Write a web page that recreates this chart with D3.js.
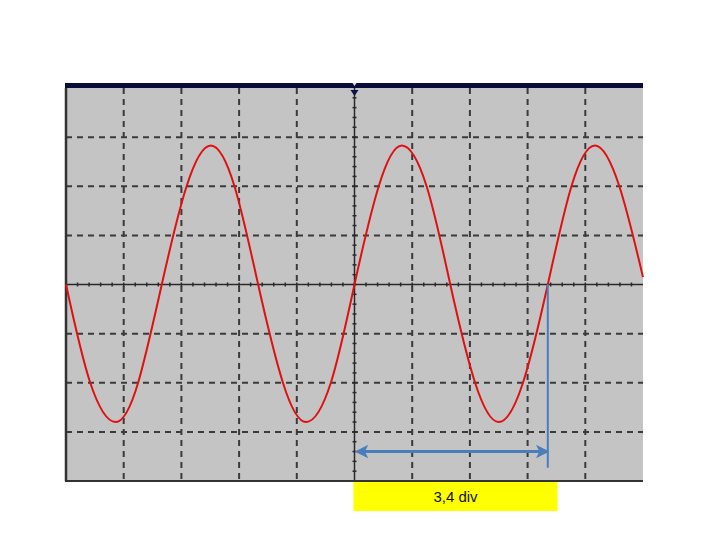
<!DOCTYPE html>
<html>
<head>
<meta charset="utf-8">
<script src="https://cdn.jsdelivr.net/npm/d3@7"></script>
<style>
  body { margin: 0; background: #fff; }
</style>
</head>
<body>
<script>
// screen divisions
var xDivs = [0, 1, 2, 3, 4, 5, 6, 7, 8, 9, 10];
var yDivs = [-4, -3, -2, -1, 0, 1, 2, 3, 4];

// trace (x in div, y in div)
var waveX = [0, 0.42, 0.86, 1.25, 1.66, 2.09, 2.51, 2.92, 3.33, 3.76, 4.16, 4.59, 5.0,
             5.42, 5.82, 6.25, 6.66, 7.09, 7.5, 7.92, 8.35, 8.76, 9.17, 9.59, 10.0];
var waveY = [0, -2.0, -2.8, -2.0, 0, 2.0, 2.83, 2.0, 0, -2.0, -2.8, -2.0, 0,
             2.0, 2.83, 2.0, 0, -2.0, -2.8, -2.0, 0, 2.0, 2.83, 2.0, 0.15];

// period measurement
var periodStart = 5.0;
var periodEnd = 8.35;
var arrowLevel = -3.4;
var markerBottom = -3.73;
var periodLabel = "3,4 div";

var width = 720, height = 540;

var svg = d3.select("body").append("svg")
  .attr("width", width)
  .attr("height", height);

var x = d3.scaleLinear().domain([0, 10]).range([66, 643]);
var y = d3.scaleLinear().domain([-4, 4]).range([481, 88]);

var defs = svg.append("defs");
defs.append("marker")
  .attr("id", "head")
  .attr("viewBox", "0 0 10 10")
  .attr("refX", 8).attr("refY", 5)
  .attr("markerWidth", 4.5).attr("markerHeight", 4.5)
  .attr("orient", "auto-start-reverse")
  .append("path")
    .attr("d", "M0,0 L10,5 L0,10 L2.5,5 Z")
    .attr("fill", "#4a7ebb");

// screen background
svg.append("rect")
  .attr("x", x(0) - 1).attr("y", y(4))
  .attr("width", x(10) - x(0) + 1).attr("height", y(-4) - y(4))
  .attr("fill", "#c4c4c4");

// dashed grid
svg.append("g").selectAll("line")
  .data(xDivs.filter(function(d) { return d > 0 && d < 10 && d != 5; }))
  .enter().append("line")
    .attr("x1", function(d) { return x(d); })
    .attr("x2", function(d) { return x(d); })
    .attr("y1", y(4)).attr("y2", y(-4))
    .attr("stroke", "#3a3a3a")
    .attr("stroke-width", 2)
    .attr("stroke-dasharray", "6,5");

svg.append("g").selectAll("line")
  .data(yDivs.filter(function(d) { return d > -4 && d < 4 && d != 0; }))
  .enter().append("line")
    .attr("x1", x(0)).attr("x2", x(10))
    .attr("y1", function(d) { return y(d); })
    .attr("y2", function(d) { return y(d); })
    .attr("stroke", "#3a3a3a")
    .attr("stroke-width", 2)
    .attr("stroke-dasharray", "6,5");

// center axes with minor ticks
svg.append("line")
  .attr("x1", x(0)).attr("x2", x(10))
  .attr("y1", y(0)).attr("y2", y(0))
  .attr("stroke", "#2a2a2a").attr("stroke-width", 1.5);
svg.append("line")
  .attr("x1", x(5)).attr("x2", x(5))
  .attr("y1", y(4)).attr("y2", y(-4))
  .attr("stroke", "#2a2a2a").attr("stroke-width", 1.5);

var minorX = d3.range(0, 50).map(function(i) { return i / 5; });
var minorY = d3.range(0, 40).map(function(i) { return -4 + i / 5; });

svg.append("g").selectAll("line")
  .data(minorX)
  .enter().append("line")
    .attr("x1", function(d) { return x(d); })
    .attr("x2", function(d) { return x(d); })
    .attr("y1", y(0) - 2).attr("y2", y(0) + 2)
    .attr("stroke", "#2a2a2a").attr("stroke-width", 1.5);

svg.append("g").selectAll("line")
  .data(minorY)
  .enter().append("line")
    .attr("x1", x(5) - 2).attr("x2", x(5) + 2)
    .attr("y1", function(d) { return y(d); })
    .attr("y2", function(d) { return y(d); })
    .attr("stroke", "#2a2a2a").attr("stroke-width", 1.5);

// screen frame: navy top band, dark left and bottom edges
svg.append("rect")
  .attr("x", x(0) - 1).attr("y", y(4) - 5)
  .attr("width", x(10) - x(0) + 1).attr("height", 5)
  .attr("fill", "#0b0b3b");
svg.append("line")
  .attr("x1", x(0)).attr("x2", x(0))
  .attr("y1", y(4)).attr("y2", y(-4))
  .attr("stroke", "#333").attr("stroke-width", 2.5);
svg.append("line")
  .attr("x1", x(0) - 1).attr("x2", x(10))
  .attr("y1", y(-4)).attr("y2", y(-4))
  .attr("stroke", "#333").attr("stroke-width", 2);

// trigger markers
svg.append("path")
  .attr("d", "M" + (x(5) - 4) + "," + (y(4) + 2) + " L" + (x(5) + 4) + "," + (y(4) + 2) +
             " L" + x(5) + "," + (y(4) + 8) + " Z")
  .attr("fill", "#10104a");
svg.append("path")
  .attr("d", "M" + (x(5) - 2) + "," + (y(4) - 5) + " L" + (x(5) + 2) + "," + (y(4) - 5) +
             " L" + x(5) + "," + (y(4) - 2) + " Z")
  .attr("fill", "#ddd");

// trace
var pts = waveX.map(function(d, i) { return [d, waveY[i]]; });
svg.append("path")
  .datum(pts)
  .attr("fill", "none")
  .attr("stroke", "#e01010")
  .attr("stroke-width", 2)
  .attr("d", d3.line()
    .x(function(d) { return x(d[0]); })
    .y(function(d) { return y(d[1]); })
    .curve(d3.curveNatural));

// period measurement
svg.append("line")
  .attr("x1", x(periodEnd)).attr("x2", x(periodEnd))
  .attr("y1", y(0)).attr("y2", y(markerBottom))
  .attr("stroke", "#4a7ebb").attr("stroke-width", 2);

svg.append("line")
  .attr("x1", x(periodStart) + 3).attr("x2", x(periodEnd) - 1)
  .attr("y1", y(arrowLevel)).attr("y2", y(arrowLevel))
  .attr("stroke", "#4a7ebb").attr("stroke-width", 3)
  .attr("marker-start", "url(#head)")
  .attr("marker-end", "url(#head)");

svg.append("rect")
  .attr("x", x(periodStart) - 1).attr("y", 482)
  .attr("width", 204).attr("height", 29)
  .attr("fill", "#ffff00");

svg.append("text")
  .attr("x", x(periodStart) - 1 + 102).attr("y", 502)
  .attr("text-anchor", "middle")
  .attr("font-family", "Liberation Sans, Arial, sans-serif")
  .attr("font-size", 15)
  .attr("fill", "#111")
  .text(periodLabel);
</script>
</body>
</html>
